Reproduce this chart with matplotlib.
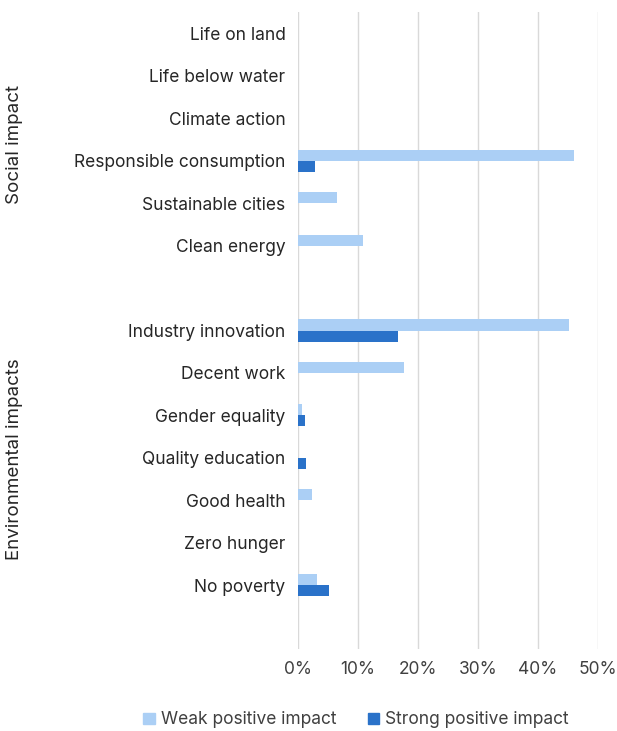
import numpy as np
import matplotlib.pyplot as plt
from matplotlib.patches import Patch

plt.rcParams['font.family'] = ['Inter', 'DejaVu Sans']

# categories from top to bottom, '' is the empty row between the groups
categories = ['Life on land', 'Life below water', 'Climate action',
              'Responsible consumption', 'Sustainable cities', 'Clean energy',
              '',
              'Industry innovation', 'Decent work', 'Gender equality',
              'Quality education', 'Good health', 'Zero hunger', 'No poverty']
weak = [0, 0, 0, 46.0, 6.5, 10.9, 0, 45.2, 17.6, 0.7, 0, 2.3, 0, 3.1]
strong = [0, 0, 0, 2.9, 0, 0, 0, 16.6, 0, 1.1, 1.3, 0, 0, 5.1]
xticks = [0, 10, 20, 30, 40, 50]

light = '#abcff5'
dark = '#2a72c9'
W, H = 617, 731
fs = 12.5

fig = plt.figure(figsize=(W / 100, H / 100), dpi=100)
ax = fig.add_axes([298 / W, 1 - 649 / H, 300 / W, 637 / H])

y = np.arange(len(categories))
h = 0.26
ax.barh(y - h / 2, weak, height=h, color=light, zorder=3)
ax.barh(y + h / 2, strong, height=h, color=dark, zorder=3)

ax.set_xlim(0, 50)
ax.set_ylim(len(categories) + 0.5, -0.5)
ax.set_xticks(xticks)
ax.set_xticklabels([f'{v}%' for v in xticks], fontsize=fs, color='#404040')
ax.set_yticks(y)
ax.set_yticklabels(categories, fontsize=fs, color='#262626')
ax.tick_params(axis='x', length=0, pad=9)
ax.tick_params(axis='y', length=0, pad=9)
ax.grid(axis='x', color='#d9d9d9', linewidth=1, zorder=0)
for s in ax.spines.values():
    s.set_visible(False)

fig.text(15 / W, 1 - 144 / H, 'Social impact', rotation=90, ha='center',
         va='center', fontsize=13.5, color='#262626')
fig.text(15 / W, 1 - 459 / H, 'Environmental impacts', rotation=90, ha='center',
         va='center', fontsize=13.5, color='#262626')

handles = [Patch(color=light, label='Weak positive impact'),
           Patch(color=dark, label='Strong positive impact')]
fig.legend(handles=handles, loc='center', bbox_to_anchor=(356 / W, 1 - 720 / H),
           ncol=2, frameon=False, fontsize=fs, handlelength=0.65,
           handleheight=0.65, handletextpad=0.35, columnspacing=1.8,
           labelcolor='#404040')

fig.savefig('out.png', dpi=100)
